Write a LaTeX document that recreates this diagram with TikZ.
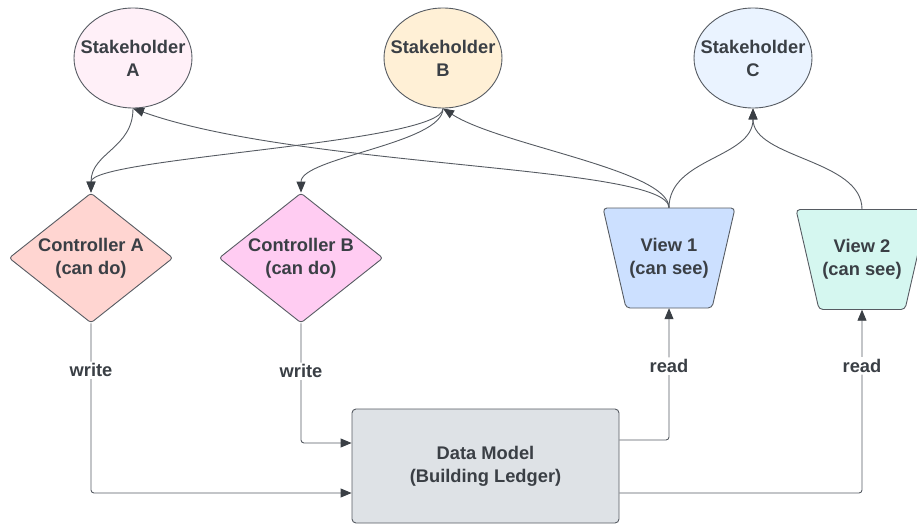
\documentclass[tikz,border=0pt]{standalone}
\usepackage{fontspec}
\setmainfont{Liberation Sans}
\usetikzlibrary{shapes.geometric,arrows.meta,calc}

\definecolor{edge}{HTML}{565B62}
\definecolor{ink}{HTML}{3A3F45}
\definecolor{fillSA}{HTML}{FFF0F8}
\definecolor{fillSB}{HTML}{FFF0D6}
\definecolor{fillSC}{HTML}{EAF3FF}
\definecolor{fillCA}{HTML}{FFD5D1}
\definecolor{fillCB}{HTML}{FFCCF2}
\definecolor{fillVA}{HTML}{CCE0FF}
\definecolor{fillVB}{HTML}{D5F7F0}
\definecolor{fillDM}{HTML}{DEE2E6}

\begin{document}
\begin{tikzpicture}[x=1pt,y=-1pt,
  every node/.style={font=\bfseries\fontsize{18.3}{23}\selectfont, text=ink, align=center},
  shapeline/.style={draw=edge, line width=0.9pt},
  stake/.style={shapeline, ellipse, minimum width=118pt, minimum height=100pt, inner xsep=-12pt, inner ysep=0pt},
  ctrl/.style={shapeline, diamond, shape aspect=1.26, minimum width=164pt, minimum height=130pt, inner sep=0pt, rounded corners=3pt},
  viewbox/.style={rectangle, minimum width=132pt, minimum height=100pt, inner sep=0pt},
  store/.style={shapeline, rectangle, rounded corners=4pt, minimum width=267pt, minimum height=114pt},
  link/.style={draw=edge, line width=0.9pt, rounded corners=3pt, -{Triangle[length=11pt,width=9pt,color=ink]}},
  lbl/.style={fill=white, inner sep=2pt},
]
\useasboundingbox (0,0) rectangle (917,524);
\clip (0,0) rectangle (917,524);

% stakeholders
\node[stake, fill=fillSA] (sa) at (133,58) {Stakeholder\\A};
\node[stake, fill=fillSB] (sb) at (443,58) {Stakeholder\\B};
\node[stake, fill=fillSC] (sc) at (753,58) {Stakeholder\\C};

% controllers
\node[ctrl, fill=fillCA] (ca) at (91,258) {Controller A\\(can do)};
\node[ctrl, fill=fillCB] (cb) at (301,258) {Controller B\\(can do)};

% views: inverted trapezoids, wide side on top
\coordinate (v1c) at (669,258);
\coordinate (v2c) at (862,259.5);
\foreach \c/\f in {v1c/fillVA, v2c/fillVB}
  \draw[shapeline, fill=\f, rounded corners=4pt]
    ([shift={(-66,-50)}]\c) -- ([shift={(66,-50)}]\c) --
    ([shift={(43,50)}]\c) -- ([shift={(-43,50)}]\c) -- cycle;
\node[viewbox] (v1) at (v1c) {View 1\\(can see)};
\node[viewbox] (v2) at (v2c) {View 2\\(can see)};

% data model
\node[store, fill=fillDM] (dm) at (485.5,466) {Data Model\\(Building Ledger)};

% stakeholders to controllers
\draw[link] (sa.south) .. controls +(0,40) and +(0,-40) .. (ca.north);
\draw[link] (sb.south) .. controls +(0,35) and +(0,-35) .. (ca.north);
\draw[link] (sb.south) .. controls +(0,35) and +(0,-35) .. (cb.north);

% views to stakeholders
\draw[link] (v1.north) .. controls +(0,-43) and +(167,60) .. (sa.south);
\draw[link] (v1.north) .. controls +(0,-38) and +(57,37) .. (sb.south);
\draw[link] (v1.north) .. controls +(0,-50) and +(0,50) .. (sc.south);
\draw[link] (v2.north) .. controls +(0,-50) and +(0,50) .. (sc.south);

% controllers write into the data model
\draw[link] (ca.south) |- node[lbl, pos=0.138] {write} ([yshift=-27pt]dm.west);
\draw[link] (cb.south) |- node[lbl, pos=0.2] {write} ([yshift=23pt]dm.west);

% views read from the data model
\draw[link] ([yshift=26pt]dm.east) -| node[lbl, pos=0.78] {read} (v1.south);
\draw[link] ([yshift=-27pt]dm.east) -| node[lbl, pos=0.847] {read} (v2.south);
\end{tikzpicture}
\end{document}
